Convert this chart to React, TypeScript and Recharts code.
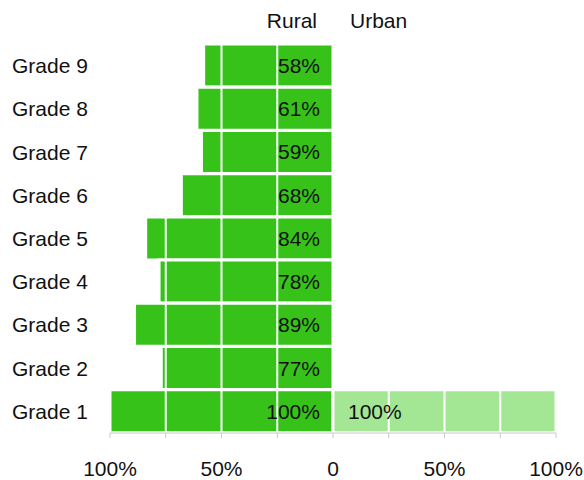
import { BarChart, Bar, XAxis, YAxis, ReferenceLine, LabelList } from 'recharts'

const grades = ['Grade 9', 'Grade 8', 'Grade 7', 'Grade 6', 'Grade 5', 'Grade 4', 'Grade 3', 'Grade 2', 'Grade 1']
const rural = [58, 61, 59, 68, 84, 78, 89, 77, 100]
const urban = [null, null, null, null, null, null, null, null, 100]
const xTicks = [-100, -75, -50, -25, 0, 25, 50, 75, 100]
const gridLines = [-75, -50, -25, 25, 50, 75]

const data = grades.map((grade, i) => ({ grade, rural: -rural[i], urban: urban[i] }))

const FONT = 21

function box(props: any) {
  const vb = props.viewBox ?? props
  const left = Math.min(vb.x, vb.x + vb.width)
  const right = Math.max(vb.x, vb.x + vb.width)
  return { left, right, cy: vb.y + vb.height / 2 }
}

function RuralLabel(props: any) {
  if (props.value == null || props.value === 0) return null
  const { right, cy } = box(props)
  return (
    <text x={right - 13} y={cy} textAnchor="end" dominantBaseline="central" fontSize={FONT} fill="#111">
      {Math.abs(props.value)}%
    </text>
  )
}

function UrbanLabel(props: any) {
  if (props.value == null || props.value === 0) return null
  const { left, cy } = box(props)
  return (
    <text x={left + 15} y={cy} textAnchor="start" dominantBaseline="central" fontSize={FONT} fill="#111">
      {props.value}%
    </text>
  )
}

function XTick({ x, y, payload }: any) {
  const v = payload.value
  if (v % 50 !== 0) return null
  return (
    <text x={x} y={y + 28} textAnchor="middle" dominantBaseline="central" fontSize={FONT} fill="#111">
      {v === 0 ? '0' : `${Math.abs(v)}%`}
    </text>
  )
}

function YTick({ y, payload }: any) {
  return (
    <text x={12} y={y} textAnchor="start" dominantBaseline="central" fontSize={FONT} fill="#111">
      {payload.value}
    </text>
  )
}

export default function App() {
  return (
    <div
      style={{
        position: 'absolute',
        left: 0,
        top: 0,
        width: 584,
        height: 480,
        background: '#fff',
        fontFamily: '"Liberation Sans", Arial, sans-serif',
      }}
    >
      <div style={{ position: 'absolute', right: 267, top: 9, fontSize: FONT, color: '#111' }}>Rural</div>
      <div style={{ position: 'absolute', left: 350, top: 9, fontSize: FONT, color: '#111' }}>Urban</div>
      <BarChart
        width={584}
        height={480}
        data={data}
        layout="vertical"
        stackOffset="sign"
        barCategoryGap={0}
        margin={{ top: 44, right: 28, bottom: 17, left: 0 }}
      >
        <XAxis
          type="number"
          domain={[-100, 100]}
          ticks={xTicks}
          interval={0}
          tick={<XTick />}
          tickSize={5}
          height={30}
          stroke="#c8c8c8"
        />
        <YAxis type="category" dataKey="grade" width={110} axisLine={false} tickLine={false} tick={<YTick />} />
        <Bar dataKey="rural" stackId="a" fill="#37c21a" stroke="#fff" strokeWidth={3} isAnimationActive={false}>
          <LabelList dataKey="rural" content={<RuralLabel />} />
        </Bar>
        <Bar dataKey="urban" stackId="a" fill="#a3e795" stroke="#fff" strokeWidth={3} isAnimationActive={false}>
          <LabelList dataKey="urban" content={<UrbanLabel />} />
        </Bar>
        {gridLines.map((v) => (
          <ReferenceLine key={v} x={v} stroke="#fff" strokeWidth={2} />
        ))}
      </BarChart>
    </div>
  )
}
